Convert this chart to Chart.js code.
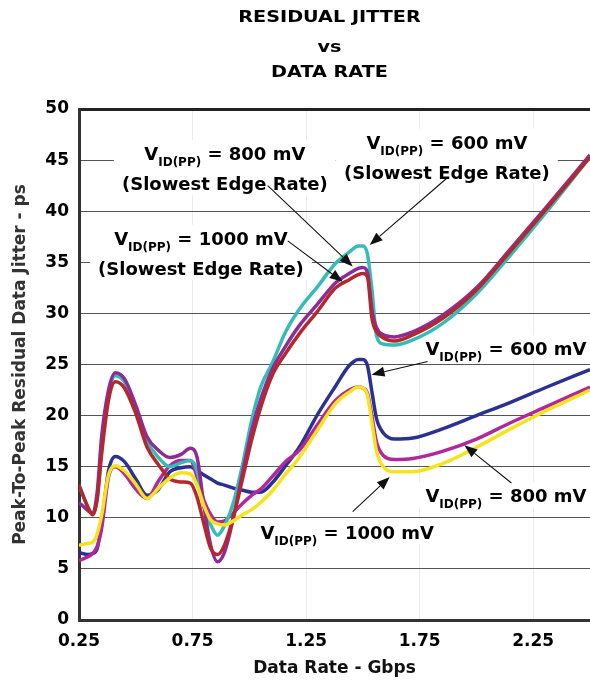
<!DOCTYPE html>
<html>
<head>
<meta charset="utf-8">
<script src="https://cdn.jsdelivr.net/npm/chart.js@4.4.0/dist/chart.umd.min.js"></script>
<style>
  html, body { margin: 0; padding: 0; background: #fff; }
  canvas { display: block; }
</style>
</head>
<body>
<canvas id="chart" width="590" height="681"></canvas>
<script>
// --- data (Gbps / ps) ---
const rates = [0.25, 0.29, 0.31, 0.33, 0.35, 0.38, 0.41, 0.45, 0.50, 0.55, 0.60, 0.65, 0.70, 0.74,
  0.77, 0.80, 0.83, 0.86, 0.89, 0.93, 0.97, 1.01, 1.05, 1.10, 1.16, 1.22, 1.30, 1.38, 1.44, 1.48,
  1.50, 1.52, 1.54, 1.56, 1.59, 1.64, 1.72, 1.85, 2.00, 2.15, 2.30, 2.50];

const jitter1000Slow = [13.2, 11.0, 10.3, 11.8, 16.3, 21.5, 23.3, 22.7, 20.2, 16.9, 15.2, 13.8, 13.5, 13.4,
  12.0, 9.4, 7.0, 6.4, 7.3, 10.1, 13.8, 17.6, 20.8, 23.9, 26.1, 28.0, 30.2, 32.5, 33.3, 33.8,
  33.9, 33.6, 29.5, 28.2, 27.6, 27.3, 27.9, 29.5, 32.3, 36.1, 40.0, 45.3];
const jitter800Slow = [11.5, 10.7, 10.4, 12.5, 18.0, 22.5, 24.2, 23.6, 21.0, 17.9, 16.6, 15.9, 16.2, 16.8,
  15.9, 11.2, 7.3, 5.7, 6.6, 10.0, 14.4, 18.5, 21.6, 24.5, 26.8, 28.8, 30.9, 33.0, 33.9, 34.4,
  34.5, 34.0, 30.3, 28.6, 27.9, 27.7, 28.2, 29.8, 32.5, 36.3, 40.2, 45.5];
const jitter600Slow = [13.2, 11.0, 10.3, 11.9, 16.8, 22.0, 23.9, 23.3, 20.8, 17.5, 15.9, 15.0, 15.4, 15.6,
  14.6, 11.1, 9.3, 8.3, 9.2, 11.5, 15.2, 19.5, 22.8, 25.1, 28.2, 30.4, 32.6, 34.9, 36.0, 36.6,
  36.6, 35.8, 32.3, 27.8, 27.0, 26.9, 27.4, 29.0, 31.9, 35.7, 39.7, 45.3];
const jitter600 = [6.6, 6.4, 6.5, 7.0, 9.5, 14.6, 16.0, 15.5, 13.8, 12.2, 12.8, 14.5, 14.9, 15.0,
  14.6, 14.2, 13.8, 13.4, 13.2, 12.9, 12.7, 12.5, 12.5, 13.4, 15.1, 16.9, 20.1, 22.9, 24.9, 25.5,
  25.5, 24.9, 22.3, 19.7, 18.3, 17.7, 17.8, 18.7, 20.0, 21.3, 22.7, 24.5];
const jitter800 = [5.8, 6.2, 6.5, 7.2, 9.0, 14.0, 15.0, 14.3, 12.8, 11.9, 13.6, 15.1, 15.6, 15.6,
  14.0, 11.7, 10.3, 9.6, 9.7, 10.5, 11.4, 12.2, 12.8, 14.0, 15.5, 16.6, 19.1, 21.5, 22.5, 22.8,
  22.7, 22.2, 19.9, 17.4, 16.1, 15.7, 15.8, 16.5, 17.7, 19.3, 20.8, 22.8];
const jitter1000 = [7.3, 7.5, 7.6, 8.4, 10.3, 14.2, 15.1, 14.6, 13.3, 11.9, 12.9, 13.9, 14.4, 14.3,
  13.2, 11.2, 9.8, 9.4, 9.3, 9.7, 10.3, 10.8, 11.5, 12.6, 14.3, 15.9, 18.6, 21.2, 22.3, 22.8,
  22.7, 22.0, 19.3, 16.5, 15.0, 14.5, 14.5, 15.3, 16.9, 18.7, 20.4, 22.5];

const xTicks = [0.25, 0.75, 1.25, 1.75, 2.25];
const titleLines = ['RESIDUAL JITTER', 'vs', 'DATA RATE'];

// callout labels and their arrows (data coordinates)
const calloutMv = ['800', '1000', '600', '600', '800', '1000'];
const calloutSlowest = [true, true, true, false, false, false];
const calloutX = [0.892, 0.787, 1.870, 2.130, 2.130, 1.431];
const calloutY = [45.7, 37.4, 46.8, 26.6, 12.2, 8.6];
const arrowFrom = [[1.081, 42.5], [1.169, 37.1], [1.868, 43.2], [1.785, 25.3], [2.154, 13.4], [1.455, 10.6]];
const arrowTo = [[1.455, 34.6], [1.411, 33.1], [1.530, 36.7], [1.538, 24.0], [1.947, 17.1], [1.618, 14.0]];

const FONT = "'DejaVu Sans', sans-serif";
const MAIN = 'bold 18px ' + FONT;
const SUB = 'bold 12px ' + FONT;

function series(label, values, color) {
  return {
    label: label,
    data: rates.map((r, i) => ({ x: r, y: values[i] })),
    borderColor: color,
    backgroundColor: color,
    borderWidth: 3.5,
    pointRadius: 0,
    cubicInterpolationMode: 'monotone',
    fill: false
  };
}

function calloutParts(mv) {
  return [
    { t: 'V', f: MAIN, dy: 0 },
    { t: 'ID(PP)', f: SUB, dy: 6 },
    { t: ' = ' + mv + ' mV', f: MAIN, dy: 0 }
  ];
}

function partsWidth(ctx, parts) {
  let w = 0;
  parts.forEach(p => { ctx.font = p.f; p.w = ctx.measureText(p.t).width; w += p.w; });
  return w;
}

function calloutBox(chart, i) {
  const ctx = chart.ctx;
  const cx = chart.scales.x.getPixelForValue(calloutX[i]);
  const cy = chart.scales.y.getPixelForValue(calloutY[i]);
  let w = partsWidth(ctx, calloutParts(calloutMv[i]));
  if (calloutSlowest[i]) {
    ctx.font = MAIN;
    w = Math.max(w, ctx.measureText('(Slowest Edge Rate)').width);
  }
  const bottom = cy + (calloutSlowest[i] ? 30 : 0) + 12;
  return { cx, cy, left: cx - w / 2 - 8, top: cy - 13, width: w + 16, height: bottom - (cy - 13) };
}

const calloutPlugin = {
  id: 'callouts',
  beforeDatasetsDraw(chart) {
    const ctx = chart.ctx;
    ctx.save();
    ctx.fillStyle = '#ffffff';
    calloutMv.forEach((mv, i) => {
      const b = calloutBox(chart, i);
      ctx.fillRect(b.left, b.top, b.width, b.height);
    });
    ctx.restore();
  },
  afterDatasetsDraw(chart) {
    const ctx = chart.ctx;
    const xs = chart.scales.x, ys = chart.scales.y;
    ctx.save();
    ctx.fillStyle = '#000';
    ctx.textBaseline = 'alphabetic';
    calloutMv.forEach((mv, i) => {
      const b = calloutBox(chart, i);
      const parts = calloutParts(mv);
      const w = partsWidth(ctx, parts);
      let x = b.cx - w / 2;
      ctx.textAlign = 'left';
      parts.forEach(p => {
        ctx.font = p.f;
        ctx.fillText(p.t, x, b.cy + 7 + p.dy);
        x += p.w;
      });
      if (calloutSlowest[i]) {
        ctx.font = MAIN;
        ctx.textAlign = 'center';
        ctx.fillText('(Slowest Edge Rate)', b.cx, b.cy + 37);
      }
    });

    // arrows
    ctx.strokeStyle = '#111';
    ctx.fillStyle = '#111';
    ctx.lineWidth = 1.1;
    arrowFrom.forEach((f, i) => {
      const x1 = xs.getPixelForValue(f[0]), y1 = ys.getPixelForValue(f[1]);
      const x2 = xs.getPixelForValue(arrowTo[i][0]), y2 = ys.getPixelForValue(arrowTo[i][1]);
      const a = Math.atan2(y2 - y1, x2 - x1);
      const len = 13, half = 5;
      const bx = x2 - len * Math.cos(a), by = y2 - len * Math.sin(a);
      ctx.beginPath();
      ctx.moveTo(x1, y1);
      ctx.lineTo(bx, by);
      ctx.stroke();
      ctx.beginPath();
      ctx.moveTo(x2, y2);
      ctx.lineTo(bx + half * Math.sin(a), by - half * Math.cos(a));
      ctx.lineTo(bx - half * Math.sin(a), by + half * Math.cos(a));
      ctx.closePath();
      ctx.fill();
    });
    ctx.restore();
  },
  afterDraw(chart) {
    // three-line heading, slightly widened like the original
    const ctx = chart.ctx;
    const area = chart.chartArea;
    const cx = (area.left + area.right) / 2 - 5;
    const baselines = [22, 52, 77];
    ctx.save();
    ctx.fillStyle = '#000';
    ctx.font = 'bold 16px ' + FONT;
    ctx.textAlign = 'center';
    ctx.textBaseline = 'alphabetic';
    titleLines.forEach((t, i) => {
      ctx.save();
      ctx.translate(cx, baselines[i]);
      ctx.scale(1.2, 1);
      ctx.fillText(t, 0, 0);
      ctx.restore();
    });
    ctx.restore();
  }
};

Chart.defaults.font.family = FONT;
Chart.defaults.font.weight = 'bold';
Chart.defaults.font.size = 17;
Chart.defaults.color = '#000';

new Chart(document.getElementById('chart'), {
  type: 'line',
  data: {
    datasets: [
      series('VID(PP) = 1000 mV', jitter1000, '#f5e31b'),
      series('VID(PP) = 1000 mV (Slowest Edge Rate)', jitter1000Slow, '#b3282e'),
      series('VID(PP) = 800 mV (Slowest Edge Rate)', jitter800Slow, '#8e2c95'),
      series('VID(PP) = 600 mV (Slowest Edge Rate)', jitter600Slow, '#35bdb5'),
      series('VID(PP) = 800 mV', jitter800, '#b2289c'),
      series('VID(PP) = 600 mV', jitter600, '#2b3192')
    ]
  },
  options: {
    responsive: false,
    animation: false,
    devicePixelRatio: 1,
    layout: { padding: { top: 109, left: 0, right: 0, bottom: 0 } },
    plugins: {
      legend: { display: false },
      title: { display: false },
      tooltip: { enabled: false }
    },
    scales: {
      x: {
        type: 'linear',
        min: 0.25,
        max: 2.5,
        afterBuildTicks: s => { s.ticks = xTicks.map(v => ({ value: v })); },
        afterFit: s => { s.height = 61; },
        ticks: {
          padding: 11,
          maxRotation: 0,
          autoSkip: false,
          color: '#000',
          font: { size: 17, weight: 'bold' },
          callback: v => Number(v).toFixed(2)
        },
        grid: { color: '#ececec', lineWidth: 1, drawTicks: false },
        border: { color: '#333', width: 3 },
        title: {
          display: true,
          text: 'Data Rate - Gbps',
          color: '#111',
          font: { size: 17, weight: 'bold' },
          padding: { top: 0, bottom: 2 }
        }
      },
      y: {
        min: 0,
        max: 50,
        afterFit: s => { s.width = 79; },
        ticks: {
          stepSize: 5,
          padding: 10,
          color: '#000',
          font: { size: 17, weight: 'bold' }
        },
        grid: {
          drawTicks: false,
          color: c => (c.tick && c.tick.value === 50 ? '#222' : '#555'),
          lineWidth: c => (c.tick && c.tick.value === 50 ? 3 : 1)
        },
        border: { color: '#333', width: 3 },
        title: {
          display: true,
          text: 'Peak-To-Peak Residual Data Jitter - ps',
          color: '#333',
          font: { size: 17, weight: 'bold' },
          padding: { top: 10, bottom: 0 }
        }
      }
    }
  },
  plugins: [calloutPlugin]
});
</script>
</body>
</html>
